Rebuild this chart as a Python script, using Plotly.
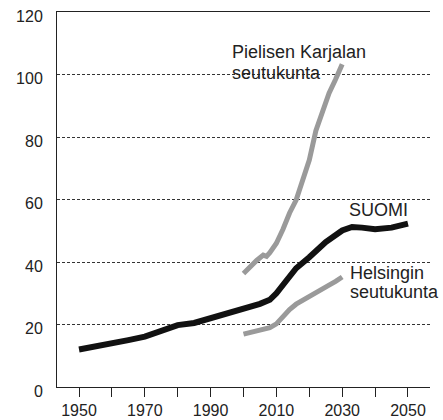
import plotly.graph_objects as go

# Data
suomi_years = [1950, 1955, 1960, 1965, 1970, 1975, 1980, 1985, 1990, 1995, 2000, 2005, 2008,
               2010, 2013, 2016, 2020, 2025, 2030, 2033, 2036, 2040, 2045, 2050]
suomi_vals = [12.0, 12.9, 13.7, 15.0, 16.1, 17.8, 19.8, 20.5, 22.0, 23.8, 25.0, 26.6, 27.9,
              30.0, 34.0, 38.0, 41.5, 46.4, 50.1, 51.2, 51.0, 50.5, 51.0, 52.3]

piel_years = [2000, 2002, 2004, 2006, 2007, 2008, 2010, 2012, 2014, 2016, 2018, 2020,
              2022, 2024, 2026, 2028, 2030]
piel_vals = [36.3, 38.5, 40.5, 42.2, 41.8, 43.0, 46.0, 50.5, 55.7, 59.8, 66.2, 72.6,
             82.0, 88.6, 94.0, 98.5, 103.3]

hel_years = [2000, 2004, 2008, 2010, 2012, 2014, 2016, 2018, 2020, 2022, 2024, 2026, 2028, 2030]
hel_vals = [16.9, 17.8, 19.0, 20.2, 22.8, 24.8, 26.5, 27.8, 29.0, 30.2, 31.4, 32.6, 33.8, 35.2]

x_ticks = [1950, 1960, 1970, 1980, 1990, 2000, 2010, 2020, 2030, 2040, 2050]
x_labels = ["1950", "", "1970", "", "1990", "", "2010", "", "2030", "", "2050"]
y_ticks = [0, 20, 40, 60, 80, 100, 120]

FONT = "Liberation Sans, Arial, Helvetica, sans-serif"
GRAY = "#9a9a9a"
BLACK = "#111111"

fig = go.Figure()
fig.add_trace(go.Scatter(x=piel_years, y=piel_vals, mode="lines",
                         line=dict(color=GRAY, width=5), hoverinfo="skip"))
fig.add_trace(go.Scatter(x=hel_years, y=hel_vals, mode="lines",
                         line=dict(color=GRAY, width=5), hoverinfo="skip"))
fig.add_trace(go.Scatter(x=suomi_years, y=suomi_vals, mode="lines",
                         line=dict(color=BLACK, width=6), hoverinfo="skip"))

ann_font = dict(family=FONT, size=18, color="#222222")
labels = [
    ("Pielisen Karjalan", 1995.9, 107.3),
    ("seutukunta", 1995.9, 100.5),
    ("SUOMI", 2031.4, 56.6),
    ("Helsingin", 2031.8, 36.4),
    ("seutukunta", 2031.8, 30.5),
]
for txt, xx, yy in labels:
    fig.add_annotation(x=xx, y=yy, text=txt, showarrow=False, xanchor="left",
                       yanchor="middle", font=ann_font, xref="x", yref="y")

fig.update_layout(
    width=443, height=420,
    margin=dict(l=57, r=13, t=12, b=33, autoexpand=False),
    paper_bgcolor="white", plot_bgcolor="white",
    showlegend=False,
    font=dict(family=FONT, size=16, color="#222222"),
)
fig.update_xaxes(
    range=[1943.31, 2056.69], tickvals=x_ticks, ticktext=x_labels,
    ticks="outside", ticklen=9, tickwidth=1, tickcolor="#222",
    showline=True, linecolor="#222", linewidth=1, mirror=True,
    showgrid=False, zeroline=False, tickfont=dict(size=16), automargin=False,
)
fig.update_yaxes(
    range=[0, 120], tickvals=y_ticks,
    ticks="outside", ticklen=10, tickcolor="rgba(0,0,0,0)",
    showline=True, linecolor="#222", linewidth=1,
    showgrid=True, gridcolor="#333", gridwidth=1, griddash="3px,2px",
    zeroline=False, tickfont=dict(size=16), ticklabelshift=4, automargin=False,
)

fig.write_html("out.html", config={"displayModeBar": False},
               post_script="document.body.style.margin='0';")
